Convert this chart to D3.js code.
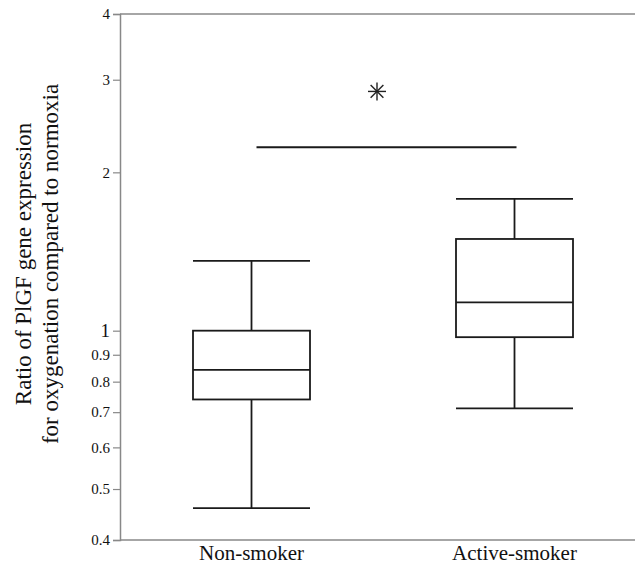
<!DOCTYPE html>
<html>
<head>
<meta charset="utf-8">
<script src="https://cdn.jsdelivr.net/npm/d3@7"></script>
<style>
  body { margin: 0; background: #fff; }
  text { font-family: "Liberation Serif", "DejaVu Serif", serif; fill: #111; }
</style>
</head>
<body>
<div id="graph"></div>
<script>
const groups = ["Non-smoker", "Active-smoker"];
const whiskerLow = [0.46, 0.712];
const q1 = [0.74, 0.972];
const median = [0.842, 1.132];
const q3 = [1.0, 1.494];
const whiskerHigh = [1.358, 1.78];
const yTicks = [0.4, 0.5, 0.6, 0.7, 0.8, 0.9, 1, 2, 3, 4];
const sigBar = 2.233;
const sigStar = 2.85;

const margin = {top: 14, right: -11, bottom: 25, left: 120},
    width = 635 - margin.left - margin.right,
    height = 565 - margin.top - margin.bottom;

const x = d3.scalePoint()
    .domain(groups)
    .range([0, width])
    .padding(0.5);
const y = d3.scaleLog()
    .domain([0.4, 4])
    .range([height, 0]);
const boxW = 117;

const svg = d3.select("#graph")
    .append("svg")
    .attr("width", 635)
    .attr("height", 565)
    .append("g")
    .attr("transform", "translate(" + margin.left + "," + margin.top + ")");

// frame: left axis, top and bottom lines
svg.append("line")
    .attr("x1", 0).attr("x2", width)
    .attr("y1", 0).attr("y2", 0)
    .attr("stroke", "#888").attr("stroke-width", 1.5);
svg.append("line")
    .attr("x1", 0).attr("x2", width)
    .attr("y1", height).attr("y2", height)
    .attr("stroke", "#888").attr("stroke-width", 1.5);

const yAxis = svg.append("g")
    .call(d3.axisLeft(y)
        .tickValues(yTicks)
        .tickSize(7)
        .tickPadding(3)
        .tickFormat(d3.format("")));
yAxis.select(".domain").attr("stroke", "#888").attr("stroke-width", 1.5);
yAxis.selectAll(".tick line").attr("stroke", "#888").attr("stroke-width", 1.2);
yAxis.selectAll(".tick text")
    .style("font-family", "'Liberation Serif', serif")
    .style("font-size", function(d) { return d === 1 ? "19px" : "15px"; })
    .attr("fill", "#111");

// x labels
svg.selectAll(".xlab")
    .data(groups)
    .enter().append("text")
    .attr("class", "xlab")
    .attr("x", function(d) { return x(d); })
    .attr("y", height + 20)
    .attr("text-anchor", "middle")
    .style("font-size", "21px")
    .text(function(d) { return d; });

// y title
const title = svg.append("text")
    .attr("transform", "translate(-89," + (264 - margin.top) + ") rotate(-90)")
    .attr("text-anchor", "middle")
    .style("font-size", "23px");
title.append("tspan").attr("x", 0).attr("dy", 0).text("Ratio of PlGF gene expression");
title.append("tspan").attr("x", 0).attr("dy", 27).text("for oxygenation compared to normoxia");

// boxes
const data = groups.map(function(g, i) {
    return {g: g, lo: whiskerLow[i], q1: q1[i], med: median[i], q3: q3[i], hi: whiskerHigh[i]};
});
const box = svg.selectAll(".box")
    .data(data)
    .enter().append("g")
    .attr("class", "box")
    .attr("stroke", "#1a1a1a")
    .attr("stroke-width", 1.8)
    .attr("fill", "none");

box.append("line")
    .attr("x1", function(d) { return x(d.g); })
    .attr("x2", function(d) { return x(d.g); })
    .attr("y1", function(d) { return y(d.hi); })
    .attr("y2", function(d) { return y(d.q3); });
box.append("line")
    .attr("x1", function(d) { return x(d.g); })
    .attr("x2", function(d) { return x(d.g); })
    .attr("y1", function(d) { return y(d.q1); })
    .attr("y2", function(d) { return y(d.lo); });
["hi", "lo", "med"].forEach(function(k) {
    box.append("line")
        .attr("x1", function(d) { return x(d.g) - boxW / 2; })
        .attr("x2", function(d) { return x(d.g) + boxW / 2; })
        .attr("y1", function(d) { return y(d[k]); })
        .attr("y2", function(d) { return y(d[k]); });
});
box.append("rect")
    .attr("x", function(d) { return x(d.g) - boxW / 2; })
    .attr("width", boxW)
    .attr("y", function(d) { return y(d.q3); })
    .attr("height", function(d) { return y(d.q1) - y(d.q3); });

// significance bar and star
svg.append("line")
    .attr("x1", x(groups[0]) + 5)
    .attr("x2", x(groups[1]) + 2)
    .attr("y1", y(sigBar)).attr("y2", y(sigBar))
    .attr("stroke", "#1a1a1a").attr("stroke-width", 2);
const sx = (x(groups[0]) + x(groups[1])) / 2 - 6, sy = y(sigStar), r = 9;
const star = svg.append("g").attr("stroke", "#222").attr("stroke-width", 1.4);
[0, 45, 90, 135].forEach(function(a) {
    const t = a * Math.PI / 180;
    star.append("line")
        .attr("x1", sx - r * Math.cos(t)).attr("x2", sx + r * Math.cos(t))
        .attr("y1", sy - r * Math.sin(t)).attr("y2", sy + r * Math.sin(t));
});
</script>
</body>
</html>
